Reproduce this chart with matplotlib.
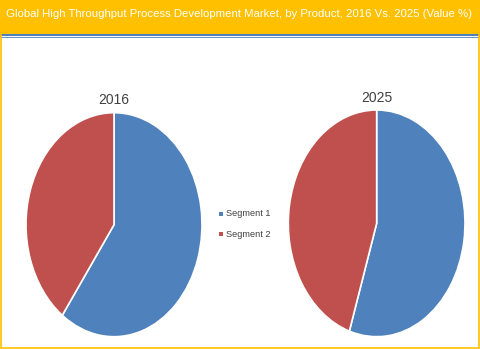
import matplotlib
matplotlib.use("Agg")
import matplotlib.pyplot as plt
from matplotlib.patches import Rectangle
from matplotlib.lines import Line2D

title = "Global High Throughput Process Development Market, by Product, 2016 Vs. 2025 (Value %)"
segments = ["Segment 1", "Segment 2"]
years = ["2016", "2025"]
values_2016 = [60, 40]
values_2025 = [55, 45]
colors = ["#4F81BD", "#C0504D"]

W, H = 480, 349
fig = plt.figure(figsize=(W / 100, H / 100), dpi=100)
fig.patch.set_facecolor("white")

fam = ["Liberation Sans", "DejaVu Sans"]

def fx(px):
    return px / W

def fy(py):
    return 1 - py / H

# Title bar
fig.patches.append(Rectangle((0, fy(33.5)), 1, 33.5 / H, transform=fig.transFigure,
                             facecolor="#FFC000", edgecolor="none", zorder=0))
fig.lines.append(Line2D([0, 1], [fy(34.5), fy(34.5)], transform=fig.transFigure,
                        color="#4F81BD", lw=1.5))
fig.lines.append(Line2D([0, 1], [fy(36.6), fy(36.6)], transform=fig.transFigure,
                        color="#4F81BD", lw=0.6))
# Border
fig.patches.append(Rectangle((fx(1), fy(348)), fx(478), 347 / H, transform=fig.transFigure,
                             facecolor="none", edgecolor="#FFC000", lw=1.2, zorder=5))
t = fig.text(fx(239), fy(14), title, ha="center", va="center", color="white",
             fontsize=10, family=fam)
renderer = fig.canvas.get_renderer()
w = t.get_window_extent(renderer).width
t.set_fontsize(10 * 466 / w)

def draw_pie(rect, vals, label, ty):
    ax = fig.add_axes(rect)
    ax.pie(vals, colors=colors, startangle=90, counterclock=False,
           wedgeprops=dict(edgecolor="white", linewidth=1.2))
    ax.set_aspect("auto")
    ax.set_xlim(-1.0, 1.0)
    ax.set_ylim(-1.0, 1.0)
    ax.axis("off")
    cx = rect[0] + rect[2] / 2
    fig.text(cx, fy(ty), label, ha="center", va="center", color="#404040",
             fontsize=10, family=fam)
    return ax

draw_pie([fx(26), fy(336.7), 176 / W, 224 / H], values_2016, years[0], 100)
draw_pie([fx(288.3), fy(336.7), 176.7 / W, 226.7 / H], values_2025, years[1], 98)

# Legend
for i, (seg, c) in enumerate(zip(segments, colors)):
    y = 213.5 + i * 20.7
    fig.patches.append(Rectangle((fx(219), fy(y + 2)), 4 / W, 4 / H,
                                 transform=fig.transFigure, facecolor=c, edgecolor="none"))
    fig.text(fx(225.5), fy(y), seg, ha="left", va="center", color="#404040",
             fontsize=6.6, family=fam)

fig.savefig("out.png", dpi=100)
